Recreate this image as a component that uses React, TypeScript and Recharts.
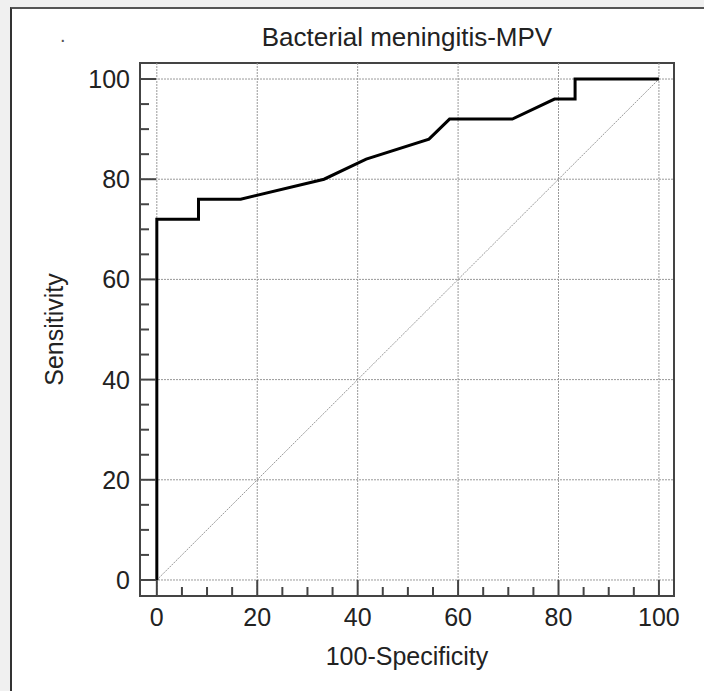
import React from 'react'
import { LineChart, Line, XAxis, YAxis, ReferenceLine, ReferenceArea } from 'recharts'

// ROC curve points (100-Specificity, Sensitivity)
const fpr = [0, 0, 8.3, 8.3, 16.7, 33.3, 41.7, 54.2, 58.3, 70.8, 79.2, 83.3, 83.3, 100]
const tpr = [0, 72, 72, 76, 76, 80, 84, 88, 92, 92, 96, 96, 100, 100]

const diagX = [0, 100]
const diagY = [0, 100]

const majorTicks = [0, 20, 40, 60, 80, 100]
const allTicks = [0, 5, 10, 15, 20, 25, 30, 35, 40, 45, 50, 55, 60, 65, 70, 75, 80, 85, 90, 95, 100]

const rocData = fpr.map((x, i) => ({ x, y: tpr[i] }))
const diagData = diagX.map((x, i) => ({ x, y: diagY[i] }))

const FONT = '"Liberation Sans", Arial, sans-serif'
const TEXT = '#222'
const FRAME = '#444'

const XTick = (props: any) => {
  const { x, y, payload } = props
  const major = majorTicks.includes(payload.value)
  return (
    <g>
      <line x1={x} x2={x} y1={y} y2={y - (major ? 16 : 9)} stroke={FRAME} strokeWidth={2} />
      {major && (
        <text x={x} y={y + 30} textAnchor="middle" fontFamily={FONT} fontSize={25} fill={TEXT}>
          {payload.value}
        </text>
      )}
    </g>
  )
}

const YTick = (props: any) => {
  const { x, y, payload } = props
  const major = majorTicks.includes(payload.value)
  return (
    <g>
      <line x1={x} x2={x + (major ? 16 : 9)} y1={y} y2={y} stroke={FRAME} strokeWidth={2} />
      {major && (
        <text x={x - 10} y={y + 9} textAnchor="end" fontFamily={FONT} fontSize={25} fill={TEXT}>
          {payload.value}
        </text>
      )}
    </g>
  )
}

const X_DOMAIN: [number, number] = [-3.35, 103]
const Y_DOMAIN: [number, number] = [-3.2, 103.2]

export default function App() {
  return (
    <div style={{ position: 'absolute', left: 0, top: 0, width: 704, height: 691, background: '#f0f0f0', overflow: 'hidden' }}>
      <div
        style={{
          position: 'absolute',
          left: 10,
          top: 7,
          width: 710,
          height: 700,
          background: '#fff',
          borderLeft: '2px solid #333',
          borderTop: '2px solid #555',
        }}
      />
      <div style={{ position: 'absolute', left: 0, top: 0 }}>
        <LineChart width={704} height={691} margin={{ top: 63, right: 30, bottom: 55, left: 80 }}>
          <XAxis
            dataKey="x"
            type="number"
            domain={X_DOMAIN}
            allowDataOverflow
            ticks={allTicks}
            interval={0}
            tickSize={0}
            tickMargin={0}
            axisLine={false}
            tickLine={false}
            tick={<XTick />}
            height={40}
          />
          <YAxis
            dataKey="y"
            type="number"
            domain={Y_DOMAIN}
            allowDataOverflow
            ticks={allTicks}
            interval={0}
            tickSize={0}
            tickMargin={0}
            axisLine={false}
            tickLine={false}
            tick={<YTick />}
            width={60}
          />
          {majorTicks.map((t) => (
            <ReferenceLine key={'v' + t} x={t} stroke="#999" strokeWidth={1} strokeDasharray="2 1" />
          ))}
          {majorTicks.map((t) => (
            <ReferenceLine key={'h' + t} y={t} stroke="#999" strokeWidth={1} strokeDasharray="2 1" />
          ))}
          <Line
            data={diagData}
            dataKey="y"
            type="linear"
            stroke="#999"
            strokeWidth={1}
            strokeDasharray="2 1"
            dot={false}
            activeDot={false}
            isAnimationActive={false}
          />
          <Line
            data={rocData}
            dataKey="y"
            type="linear"
            stroke="#000"
            strokeWidth={3}
            dot={false}
            activeDot={false}
            isAnimationActive={false}
          />
          <ReferenceArea
            x1={X_DOMAIN[0]}
            x2={X_DOMAIN[1]}
            y1={Y_DOMAIN[0]}
            y2={Y_DOMAIN[1]}
            stroke={FRAME}
            strokeWidth={2}
            fill="none"
            fillOpacity={0}
          />
        </LineChart>
      </div>
      <div
        style={{
          position: 'absolute',
          left: 140,
          top: 25,
          width: 534,
          textAlign: 'center',
          fontFamily: FONT,
          fontSize: 26,
          lineHeight: '25px',
          color: TEXT,
        }}
      >
        Bacterial meningitis-MPV
      </div>
      <div
        style={{
          position: 'absolute',
          left: 140,
          top: 644,
          width: 534,
          textAlign: 'center',
          fontFamily: FONT,
          fontSize: 25,
          lineHeight: '25px',
          color: TEXT,
        }}
      >
        100-Specificity
      </div>
      <div
        style={{
          position: 'absolute',
          left: -46,
          top: 317,
          width: 200,
          height: 25,
          textAlign: 'center',
          fontFamily: FONT,
          fontSize: 25,
          lineHeight: '25px',
          color: TEXT,
          transform: 'rotate(-90deg)',
        }}
      >
        Sensitivity
      </div>
      <div
        style={{ position: 'absolute', left: 60, top: 25, fontFamily: FONT, fontSize: 20, lineHeight: '20px', color: '#555' }}
      >
        .
      </div>
    </div>
  )
}
